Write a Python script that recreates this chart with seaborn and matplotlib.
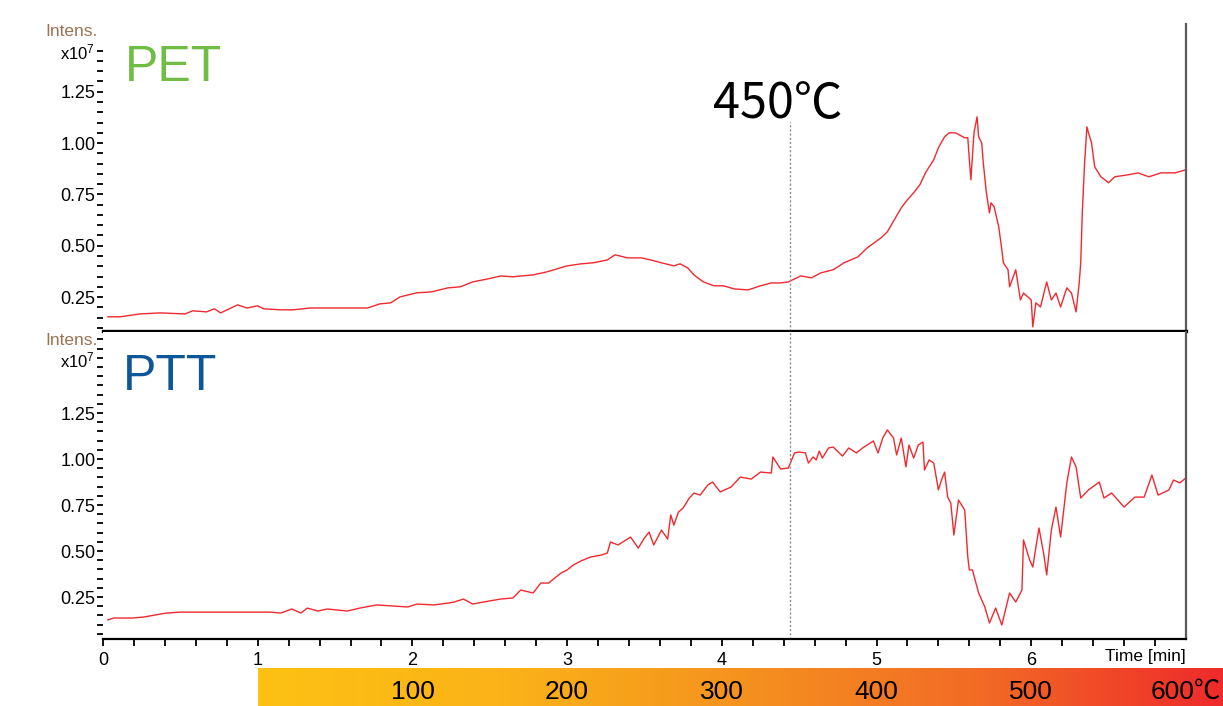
# %%
import numpy as np
import pandas as pd
import matplotlib
matplotlib.use("Agg")
import matplotlib.pyplot as plt
import seaborn as sns
from matplotlib.ticker import FixedLocator, MultipleLocator
from matplotlib.colors import LinearSegmentedColormap

# %%
# PET trace (time in min, intensity in 1e7)
pet_t = [0.03, 0.11, 0.24, 0.37, 0.53, 0.58, 0.67, 0.72, 0.76, 0.87, 0.93, 1.00, 1.04, 1.15, 1.23,
         1.34, 1.49, 1.58, 1.71, 1.79, 1.86, 1.92, 2.03, 2.12, 2.23, 2.31, 2.39, 2.49, 2.57, 2.65,
         2.78, 2.87, 3.00, 3.09, 3.17, 3.26, 3.31, 3.39, 3.48, 3.54, 3.61, 3.69, 3.73, 3.78, 3.82,
         3.88, 3.95, 4.01, 4.08, 4.17, 4.25, 4.32, 4.38, 4.43, 4.51, 4.58, 4.64, 4.72, 4.79, 4.88,
         4.94, 5.03, 5.07, 5.16, 5.20, 5.24, 5.28, 5.32, 5.37, 5.40, 5.44, 5.47, 5.51, 5.57, 5.59,
         5.60, 5.61, 5.63, 5.65, 5.66, 5.68, 5.69, 5.71, 5.73, 5.74, 5.76, 5.79, 5.81, 5.82, 5.85,
         5.86, 5.90, 5.93, 5.95, 6.00, 6.01, 6.03, 6.06, 6.10, 6.13, 6.16, 6.19, 6.23, 6.26, 6.29,
         6.31, 6.32, 6.33, 6.345, 6.36, 6.37, 6.39, 6.41, 6.45, 6.50, 6.54, 6.63, 6.69, 6.76, 6.84,
         6.93, 7.00]
pet_v = [0.154, 0.154, 0.168, 0.173, 0.168, 0.183, 0.178, 0.193, 0.173, 0.212, 0.197, 0.207, 0.193, 0.188, 0.188,
         0.197, 0.197, 0.197, 0.197, 0.217, 0.222, 0.251, 0.271, 0.275, 0.295, 0.300, 0.324, 0.339, 0.353, 0.349,
         0.358, 0.373, 0.402, 0.412, 0.417, 0.431, 0.456, 0.441, 0.441, 0.431, 0.417, 0.402, 0.412, 0.392, 0.358,
         0.324, 0.305, 0.305, 0.290, 0.285, 0.305, 0.319, 0.319, 0.324, 0.353, 0.344, 0.368, 0.383, 0.417, 0.446,
         0.490, 0.539, 0.568, 0.685, 0.724, 0.758, 0.797, 0.860, 0.919, 0.977, 1.031, 1.050, 1.050, 1.026, 1.026,
         0.919, 0.821, 1.050, 1.128, 1.031, 1.001, 0.904, 0.758, 0.660, 0.709, 0.690, 0.592, 0.480, 0.417, 0.383,
         0.300, 0.383, 0.236, 0.270, 0.236, 0.105, 0.222, 0.202, 0.324, 0.236, 0.270, 0.202, 0.295, 0.270, 0.178,
         0.319, 0.417, 0.660, 0.904, 1.079, 1.050, 1.001, 0.885, 0.836, 0.807, 0.836, 0.846, 0.855, 0.836, 0.855,
         0.855, 0.870]

# PTT trace
ptt_t = [0.03, 0.07, 0.19, 0.26, 0.41, 0.50, 0.63, 0.74, 0.95, 1.08, 1.15, 1.22, 1.28, 1.32, 1.39,
         1.45, 1.58, 1.66, 1.77, 1.88, 1.97, 2.03, 2.14, 2.23, 2.27, 2.33, 2.39, 2.46, 2.57, 2.65,
         2.70, 2.78, 2.83, 2.88, 2.96, 3.00, 3.04, 3.09, 3.15, 3.22, 3.26, 3.28, 3.33, 3.41, 3.46,
         3.50, 3.53, 3.56, 3.61, 3.65, 3.67, 3.69, 3.72, 3.75, 3.79, 3.82, 3.86, 3.91, 3.94, 3.99,
         4.06, 4.12, 4.19, 4.25, 4.32, 4.33, 4.38, 4.43, 4.47, 4.50, 4.54, 4.56, 4.59, 4.61, 4.63,
         4.65, 4.69, 4.72, 4.78, 4.82, 4.87, 4.91, 4.98, 5.01, 5.04, 5.07, 5.11, 5.13, 5.16, 5.19,
         5.21, 5.24, 5.27, 5.30, 5.31, 5.34, 5.37, 5.40, 5.42, 5.44, 5.46, 5.48, 5.50, 5.53, 5.57,
         5.59, 5.60, 5.62, 5.66, 5.70, 5.73, 5.77, 5.81, 5.86, 5.90, 5.94, 5.95, 5.99, 6.01, 6.05,
         6.08, 6.10, 6.13, 6.16, 6.19, 6.23, 6.26, 6.29, 6.32, 6.37, 6.44, 6.47, 6.52, 6.60, 6.67,
         6.73, 6.78, 6.82, 6.89, 6.92, 6.96, 7.00]
ptt_v = [0.125, 0.136, 0.136, 0.141, 0.163, 0.168, 0.168, 0.168, 0.168, 0.168, 0.163, 0.185, 0.163, 0.190, 0.174,
         0.185, 0.174, 0.190, 0.207, 0.201, 0.196, 0.212, 0.207, 0.217, 0.223, 0.239, 0.212, 0.223, 0.239, 0.245,
         0.288, 0.272, 0.326, 0.326, 0.380, 0.397, 0.424, 0.446, 0.467, 0.478, 0.489, 0.549, 0.533, 0.576, 0.516,
         0.571, 0.603, 0.533, 0.614, 0.565, 0.696, 0.641, 0.712, 0.734, 0.788, 0.815, 0.804, 0.859, 0.875, 0.821,
         0.848, 0.902, 0.891, 0.929, 0.924, 1.011, 0.946, 0.951, 1.033, 1.038, 1.033, 0.978, 1.011, 0.995, 1.043,
         1.005, 1.060, 1.065, 1.016, 1.060, 1.033, 1.060, 1.098, 1.033, 1.114, 1.158, 1.114, 1.022, 1.114, 0.957,
         1.076, 1.005, 1.076, 1.092, 0.940, 0.995, 0.978, 0.832, 0.886, 0.929, 0.793, 0.761, 0.587, 0.777, 0.723,
         0.467, 0.397, 0.397, 0.272, 0.196, 0.109, 0.190, 0.098, 0.272, 0.223, 0.288, 0.560, 0.451, 0.413, 0.625,
         0.489, 0.370, 0.614, 0.739, 0.576, 0.870, 1.011, 0.957, 0.788, 0.832, 0.875, 0.788, 0.815, 0.739, 0.793,
         0.793, 0.913, 0.804, 0.832, 0.886, 0.870, 0.897]

x_major = [0, 1, 2, 3, 4, 5, 6]
y_major = [0.25, 0.50, 0.75, 1.00, 1.25]
y_labels = ["0.25", "0.50", "0.75", "1.00", "1.25"]
temps = [100, 200, 300, 400, 500, 600]
marker_t = 4.44   # 450 C mark

pet_df = pd.DataFrame({"t": pet_t, "v": pet_v})
ptt_df = pd.DataFrame({"t": ptt_t, "v": ptt_v})

# %%
sns.set_style("white")
plt.rcParams["font.family"] = ["Liberation Sans", "DejaVu Sans"]
plt.rcParams["mathtext.default"] = "regular"
plt.rcParams["text.color"] = "black"
plt.rcParams["xtick.color"] = "black"
plt.rcParams["ytick.color"] = "black"

red = "#ee2a30"
fig = plt.figure(figsize=(12.23, 7.06), dpi=100)
ax_top = fig.add_axes([0.0842, 0.5312, 0.8855, 0.4348])
ax_bot = fig.add_axes([0.0842, 0.0949, 0.8855, 0.4348])
ax_bar = fig.add_axes([0.211, 0.0, 0.789, 0.0538])

sns.lineplot(data=pet_df, x="t", y="v", ax=ax_top, color=red, linewidth=1,
             estimator=None, sort=False)
sns.lineplot(data=ptt_df, x="t", y="v", ax=ax_bot, color=red, linewidth=1,
             estimator=None, sort=False)

ax_top.set_ylim(0.085, 1.58)
ax_bot.set_ylim(0.022, 1.69)

for ax in (ax_top, ax_bot):
    ax.set_xlim(0, 7.0)
    ax.set_xlabel("")
    ax.set_ylabel("")
    ax.spines["left"].set_visible(False)
    ax.spines["top"].set_visible(False)
    ax.spines["right"].set_color("#5a5a5a")
    ax.spines["right"].set_linewidth(1.6)
    ax.spines["bottom"].set_color("black")
    ax.yaxis.set_major_locator(FixedLocator(y_major))
    ax.set_yticklabels(y_labels)
    ax.tick_params(axis="y", which="both", left=True, direction="out", length=4, width=1.3,
                   color="black", labelcolor="black", pad=1.5, labelsize=13)
    ax.text(-0.0046, 0.974, "Intens.", transform=ax.transAxes, ha="right", va="center",
            fontsize=12.5, color="#9b7353")
    ax.text(-0.0074, 0.908, "x10$^{7}$", transform=ax.transAxes, ha="right", va="center",
            fontsize=12, color="black")

ax_top.yaxis.set_minor_locator(FixedLocator(np.arange(0.10, 1.46, 0.05)))
ax_bot.yaxis.set_minor_locator(MultipleLocator(0.05))
ax_top.spines["bottom"].set_linewidth(2.4)
ax_bot.spines["bottom"].set_linewidth(1.6)

ax_top.set_xticks([])
ax_bot.set_xticks(x_major)
ax_bot.xaxis.set_minor_locator(FixedLocator(np.arange(0.2, 7.0, 0.2)))
ax_bot.tick_params(axis="x", which="both", bottom=True, direction="out", length=5, width=1.3,
                   color="black", labelcolor="black", pad=4, labelsize=13)
ax_bot.text(1.0, -0.058, "Time [min]", transform=ax_bot.transAxes, ha="right", va="center",
            fontsize=12.5, color="black")

# 450 C marker line
ax_top.axvline(marker_t, ymin=0, ymax=0.68, color="#8c8c8c", linestyle=(0, (1.5, 1.5)), linewidth=1)
ax_bot.axvline(marker_t, color="#8c8c8c", linestyle=(0, (1.5, 1.5)), linewidth=1)
ax_top.text(4.36, 1.19, "450℃", ha="center", va="center", fontsize=35,
            family=["Noto Sans CJK SC", "DejaVu Sans"], color="black")

ax_top.text(0.14, 1.30, "PET", ha="left", va="baseline", fontsize=36, color="#6fbd45")
ax_bot.text(0.13, 1.375, "PTT", ha="left", va="baseline", fontsize=36, color="#0d5796")

# temperature bar
cmap = LinearSegmentedColormap.from_list("heat", ["#fdc113", "#fbb318", "#f5921f", "#f26a25", "#ee2b2b"])
ax_bar.imshow(np.linspace(0, 1, 256).reshape(1, -1), cmap=cmap, aspect="auto",
              extent=(1.0, 7.246, 0, 1))
ax_bar.set_xlim(1.0, 7.246)
ax_bar.set_ylim(0, 1)
ax_bar.axis("off")
for temp in temps:
    xpos = 1 + temp / 100
    if temp == temps[-1]:
        ax_bar.text(7.235, 0.36, f"{temp}℃", ha="right", va="center", fontsize=19,
                    family=["Liberation Sans", "Noto Sans CJK SC"], color="black")
    else:
        ax_bar.text(xpos, 0.36, str(temp), ha="center", va="center", fontsize=19, color="black")

fig.savefig("out.png", dpi=100)
